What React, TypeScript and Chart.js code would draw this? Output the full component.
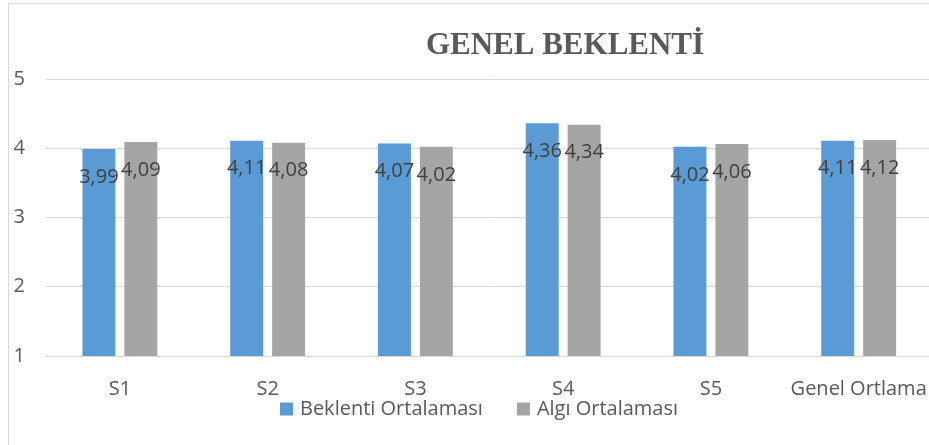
import React, { useEffect, useRef } from "react";
import { Chart, registerables } from "chart.js";

Chart.register(...registerables);

const chartTitle = "GENEL BEKLENTİ";
const categories = ["S1", "S2", "S3", "S4", "S5", "Genel Ortlama"];
const seriesNames = ["Beklenti Ortalaması", "Algı Ortalaması"];
const beklenti = [3.99, 4.11, 4.07, 4.36, 4.02, 4.11];
const algi = [4.09, 4.08, 4.02, 4.34, 4.06, 4.12];
const yMin = 1;
const yMax = 5;
const yStep = 1;

const BLUE = "#5B9BD5";
const GRAY = "#A5A5A5";
const TEXT = "#595959";
const LABEL = "#404040";
const GRID = "#D9D9D9";
const SANS = "'Open Sans', sans-serif";

const fmt = (v: number) => v.toFixed(2).replace(".", ",");

const overlayPlugin = {
  id: "overlay",
  afterDatasetsDraw(chart: any) {
    const ctx = chart.ctx;
    ctx.save();
    ctx.font = `20px ${SANS}`;
    ctx.fillStyle = LABEL;
    ctx.textAlign = "center";
    ctx.textBaseline = "middle";
    chart.data.datasets.forEach((ds: any, di: number) => {
      const meta = chart.getDatasetMeta(di);
      meta.data.forEach((bar: any, i: number) => {
        ctx.fillText(fmt(ds.data[i]), bar.x, bar.y + 28);
      });
    });
    ctx.restore();
  },
  afterDraw(chart: any) {
    const ctx = chart.ctx;
    // title
    ctx.save();
    ctx.font = `bold 31px 'Liberation Serif', 'Times New Roman', serif`;
    ctx.fillStyle = TEXT;
    ctx.textAlign = "center";
    ctx.textBaseline = "alphabetic";
    ctx.fillText(chartTitle, 556, 50);
    ctx.restore();

    // legend
    ctx.save();
    ctx.font = `20px ${SANS}`;
    ctx.textBaseline = "middle";
    ctx.textAlign = "left";
    const box = 13;
    const gap = 7;
    const itemGap = 34;
    const widths = chart.data.datasets.map((ds: any) => box + gap + ctx.measureText(ds.label).width);
    const total = widths.reduce((a: number, b: number) => a + b, 0) + itemGap * (widths.length - 1);
    let x = chart.width / 2 - total / 2;
    const cy = 405;
    chart.data.datasets.forEach((ds: any, i: number) => {
      ctx.fillStyle = ds.backgroundColor;
      ctx.fillRect(x, cy - box / 2, box, box);
      ctx.fillStyle = TEXT;
      ctx.fillText(ds.label, x + box + gap, cy);
      x += widths[i] + itemGap;
    });
    ctx.restore();
  },
};

export default function App() {
  const ref = useRef<HTMLCanvasElement | null>(null);

  useEffect(() => {
    if (!ref.current) return;
    const chart = new Chart(ref.current, {
      type: "bar",
      data: {
        labels: categories,
        datasets: [
          {
            label: seriesNames[0],
            data: beklenti,
            backgroundColor: BLUE,
            categoryPercentage: 0.5676,
            barPercentage: 0.786,
          },
          {
            label: seriesNames[1],
            data: algi,
            backgroundColor: GRAY,
            categoryPercentage: 0.5676,
            barPercentage: 0.786,
          },
        ],
      },
      options: {
        responsive: false,
        animation: false,
        layout: { padding: { left: 4, right: 15, top: 75, bottom: 23 } },
        plugins: {
          title: { display: false },
          tooltip: { enabled: false },
          legend: { display: false },
        },
        scales: {
          x: {
            grid: { display: false, drawTicks: false },
            border: { display: false },
            ticks: {
              color: TEXT,
              font: { family: SANS, size: 20 },
              padding: 21,
              maxRotation: 0,
              autoSkip: false,
            },
          },
          y: {
            min: yMin,
            max: yMax,
            grid: { color: GRID, lineWidth: 1, drawTicks: false },
            border: { display: false },
            ticks: {
              stepSize: yStep,
              color: TEXT,
              font: { family: SANS, size: 20 },
              padding: 21,
            },
            afterFit(scale: any) {
              scale.width = 33;
            },
          },
        },
      },
      plugins: [overlayPlugin],
    });
    return () => chart.destroy();
  }, []);

  return (
    <div
      style={{
        position: "absolute",
        left: 8,
        top: 3,
        width: 940,
        height: 441,
        borderLeft: `1px solid ${GRID}`,
        borderTop: `1px solid ${GRID}`,
        background: "#fff",
      }}
    >
      <canvas ref={ref} width={940} height={441} style={{ display: "block" }} />
    </div>
  );
}
